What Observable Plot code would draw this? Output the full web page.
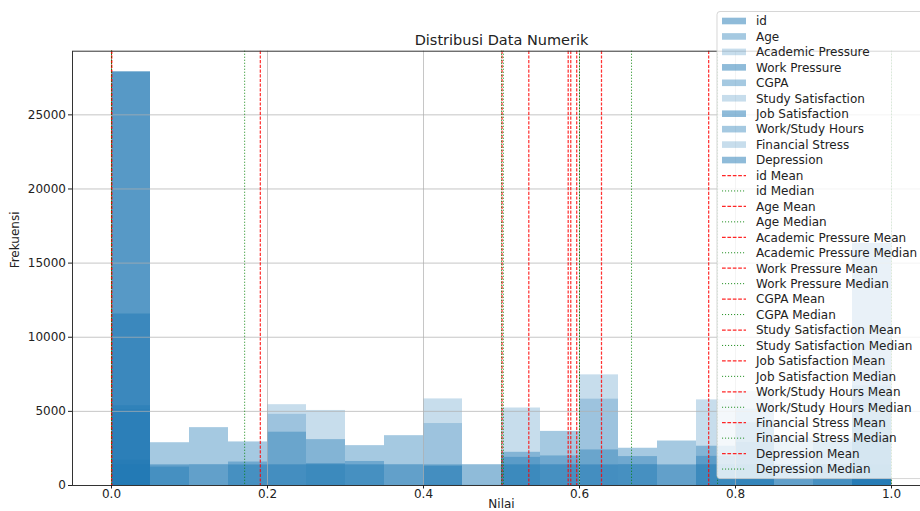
<!DOCTYPE html>
<html>
<head>
<meta charset="utf-8">
<script src="https://cdn.jsdelivr.net/npm/d3@7"></script>
<script src="https://cdn.jsdelivr.net/npm/@observablehq/plot@0.6"></script>
<style>
html, body { margin: 0; padding: 0; background: #fff; overflow: hidden; }
#chart { width: 920px; height: 511px; overflow: hidden; position: relative; }
</style>
</head>
<body>
<div id="chart"></div>
<script>
// ---------- data (normalised values, 20 bins on [0,1]) ----------
const seriesNames = ["id", "Age", "Academic Pressure", "Work Pressure", "CGPA",
  "Study Satisfaction", "Job Satisfaction", "Work/Study Hours", "Financial Stress", "Depression"];

const binEdges = [0, 0.05, 0.1, 0.15, 0.2, 0.25, 0.3, 0.35, 0.4, 0.45, 0.5,
  0.55, 0.6, 0.65, 0.7, 0.75, 0.8, 0.85, 0.9, 0.95, 1.0];

const idCounts = [1398, 1391, 1402, 1388, 1396, 1405, 1393, 1399, 1387, 1401,
  1394, 1397, 1390, 1404, 1389, 1400, 1395, 1392, 1403, 1377];
const ageCounts = [5384, 2886, 3903, 2939, 3595, 3095, 2689, 3361, 17, 10,
  3, 5, 3, 2, 3, 1, 1, 1, 1, 2];
const academicPressureCounts = [9, 0, 0, 0, 4801, 0, 0, 0, 4179, 0,
  0, 0, 7463, 0, 0, 0, 5155, 0, 0, 6294];
const workPressureCounts = [27898, 0, 0, 0, 0, 0, 0, 0, 1, 0,
  0, 0, 0, 0, 0, 0, 0, 0, 0, 2];
const cgpaCounts = [9, 0, 0, 0, 0, 0, 0, 0, 0, 0,
  1900, 3650, 2400, 1950, 3000, 2650, 2900, 3200, 3150, 3092];
const studySatisfactionCounts = [10, 0, 0, 0, 5451, 0, 0, 0, 5840, 0,
  0, 0, 5823, 0, 0, 0, 6360, 0, 0, 4417];
const jobSatisfactionCounts = [27893, 0, 0, 0, 0, 2, 0, 0, 0, 0,
  3, 0, 0, 0, 0, 1, 0, 0, 0, 2];
const workStudyHoursCounts = [1700, 1240, 0, 1583, 0, 1473, 1620, 0, 1287, 0,
  2240, 1993, 0, 2513, 0, 1967, 4231, 0, 2891, 3163];
const financialStressCounts = [5121, 0, 0, 0, 0, 5061, 0, 0, 0, 0,
  5226, 0, 0, 0, 0, 5775, 0, 0, 0, 6715];
const depressionCounts = [11565, 0, 0, 0, 0, 0, 0, 0, 0, 0,
  0, 0, 0, 0, 0, 0, 0, 0, 0, 16336];

const meanValues   = [0.5007, 0.1908, 0.6282, 0.0001, 0.7656, 0.5888, 0.0002, 0.5964, 0.5350, 0.5855];
const medianValues = [0.5024, 0.1707, 0.6000, 0.0000, 0.7770, 0.6000, 0.0000, 0.6667, 0.5000, 1.0000];

const xTicks = [0, 0.2, 0.4, 0.6, 0.8, 1.0];
const yTicks = [0, 5000, 10000, 15000, 20000, 25000];
const yMax = 29293;

const titleText = "Distribusi Data Numerik";
const xLabel = "Nilai";
const yLabel = "Frekuensi";

// ---------- styling ----------
const barColor = "#1f77b4";
const alphaCycle = [0.5, 0.4, 0.25];
const meanColor = "#ff0000";
const medianColor = "#008000";
const meanDash = "3.2,1.5";
const medianDash = "1.1,1.9";
const textColor = "#222";

const countsBySeries = [idCounts, ageCounts, academicPressureCounts, workPressureCounts, cgpaCounts,
  studySatisfactionCounts, jobSatisfactionCounts, workStudyHoursCounts, financialStressCounts, depressionCounts];

const histMarks = seriesNames.map((name, s) => {
  const rows = countsBySeries[s]
    .map((c, i) => ({x1: binEdges[i], x2: binEdges[i + 1], c}))
    .filter(d => d.c > 0);
  return Plot.rect(rows, {
    x1: "x1", x2: "x2", y1: () => 0, y2: "c",
    fill: barColor, fillOpacity: alphaCycle[s % 3], inset: 0
  });
});

const lineMarks = seriesNames.flatMap((name, s) => [
  Plot.ruleX([meanValues[s]], {x: d => d, stroke: meanColor, strokeWidth: 1.25, strokeDasharray: meanDash, strokeOpacity: 0.8}),
  Plot.ruleX([medianValues[s]], {x: d => d, stroke: medianColor, strokeWidth: 1, strokeDasharray: medianDash, strokeOpacity: 0.85})
]);

const plot = Plot.plot({
  width: 920,
  height: 511,
  marginLeft: 72,
  marginRight: -10,
  marginTop: 50.7,
  marginBottom: 26,
  x: {domain: [-0.05, 1.05], axis: null},
  y: {domain: [0, yMax], axis: null},
  style: {fontFamily: "'DejaVu Sans', sans-serif", fontSize: "12px", background: "white", overflow: "hidden"},
  marks: [
    ...histMarks,
    Plot.ruleX(xTicks, {stroke: "#b0b0b0", strokeWidth: 0.9, strokeOpacity: 0.8}),
    Plot.ruleY(yTicks, {stroke: "#b0b0b0", strokeWidth: 0.9, strokeOpacity: 0.8}),
    ...lineMarks,
    Plot.frame({stroke: "#333", strokeWidth: 1}),
    Plot.axisX({ticks: xTicks, tickFormat: d => d.toFixed(1), tickSize: 3.5, tickPadding: 0.5,
      label: null, color: textColor, fontSize: 12}),
    Plot.axisY({ticks: yTicks, tickFormat: d => String(d), tickSize: 4, tickPadding: 2.5,
      label: null, color: textColor, fontSize: 12}),
    Plot.text([titleText], {frameAnchor: "top", lineAnchor: "middle", dy: -11.1, fontSize: 14.5, fill: textColor}),
    Plot.text([xLabel], {frameAnchor: "bottom", lineAnchor: "middle", dy: 18.3, fontSize: 12, fill: textColor}),
    Plot.text([yLabel], {frameAnchor: "left", lineAnchor: "middle", dx: -57, rotate: -90, fontSize: 12, fill: textColor})
  ]
});

document.getElementById("chart").appendChild(plot);

// ---------- legend ----------
const legendItems = [
  ...seriesNames.map((n, s) => ({label: n, type: "patch", alpha: alphaCycle[s % 3]})),
  ...seriesNames.flatMap(n => [
    {label: n + " Mean", type: "mean"},
    {label: n + " Median", type: "median"}
  ])
];
const lgX = 717, lgY = 11.5, lgW = 215, row0 = 21, rowStep = 15.45;
const lgH = (row0 + rowStep * (legendItems.length - 1)) - lgY + 9.5;
const svg = d3.select(plot);
const lg = svg.append("g")
  .attr("font-family", "'DejaVu Sans', sans-serif")
  .attr("font-size", 12)
  .attr("text-anchor", "start");
lg.append("rect")
  .attr("x", lgX).attr("y", lgY).attr("width", lgW).attr("height", lgH)
  .attr("rx", 3).attr("fill", "white").attr("fill-opacity", 0.8)
  .attr("stroke", "#cccccc").attr("stroke-opacity", 0.8);
legendItems.forEach((it, i) => {
  const cy = row0 + i * rowStep;
  if (it.type === "patch") {
    lg.append("rect").attr("x", 722).attr("y", cy - 3.3).attr("width", 24).attr("height", 6.6)
      .attr("fill", barColor).attr("fill-opacity", it.alpha);
  } else {
    const mean = it.type === "mean";
    lg.append("line").attr("x1", 722).attr("x2", 746).attr("y1", cy).attr("y2", cy)
      .attr("stroke", mean ? meanColor : medianColor)
      .attr("stroke-width", mean ? 1.25 : 1)
      .attr("stroke-dasharray", mean ? "3.7,1.7" : medianDash)
      .attr("stroke-opacity", 0.85);
  }
  lg.append("text").attr("x", 756).attr("y", cy + 4.3).attr("fill", textColor)
    .attr("text-anchor", "start").text(it.label);
});
</script>
</body>
</html>
